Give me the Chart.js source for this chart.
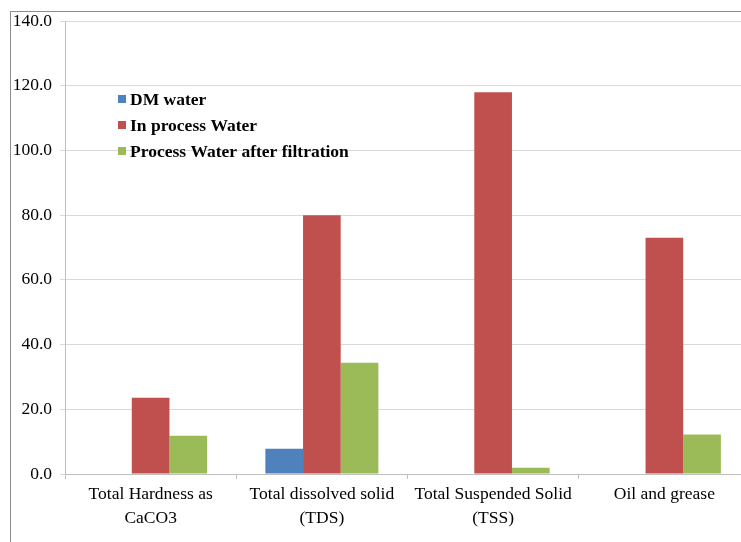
<!DOCTYPE html>
<html>
<head>
<meta charset="utf-8">
<script src="https://cdn.jsdelivr.net/npm/chart.js@4/dist/chart.umd.min.js"></script>
<style>
  html, body { margin: 0; padding: 0; background: #fff; overflow: hidden; }
  #wrap { position: relative; width: 750px; height: 542px; }
</style>
</head>
<body>
<div id="wrap"><canvas id="c"></canvas></div>
<script>
const categories = [
  ['Total Hardness as', 'CaCO3'],
  ['Total dissolved solid', '(TDS)'],
  ['Total Suspended Solid', '(TSS)'],
  'Oil and grease'
];
const dmWater = [0, 7.8, 0, 0];
const inProcessWater = [23.6, 80.0, 118.0, 73.0];
const afterFiltration = [11.8, 34.4, 1.9, 12.2];
const yTicks = [0, 20, 40, 60, 80, 100, 120, 140];

const SERIF = '"Liberation Serif", "DejaVu Serif", serif';

// cadre gris (bord gauche + haut visibles) et légende dans la zone de tracé
const framePlugin = {
  id: 'frame',
  beforeDraw(chart) {
    const ctx = chart.ctx;
    ctx.save();
    ctx.strokeStyle = '#8c8c8c';
    ctx.lineWidth = 1;
    ctx.strokeRect(10.5, 11.5, 900, 700);
    ctx.restore();
  },
  afterDraw(chart) {
    const ctx = chart.ctx;
    ctx.save();
    ctx.font = 'bold 17.5px ' + SERIF;
    ctx.textBaseline = 'middle';
    chart.data.datasets.forEach((ds, i) => {
      const y = 99 + i * 26;
      ctx.fillStyle = ds.backgroundColor;
      ctx.fillRect(118, y - 4, 8, 8);
      ctx.fillStyle = '#000';
      ctx.fillText(ds.label, 130, y + 1);
    });
    ctx.restore();
  }
};

new Chart(document.getElementById('c'), {
  type: 'bar',
  data: {
    labels: categories,
    datasets: [
      { label: 'DM water', data: dmWater, backgroundColor: '#4f81bd' },
      { label: 'In process Water', data: inProcessWater, backgroundColor: '#c0504d' },
      { label: 'Process Water after filtration', data: afterFiltration, backgroundColor: '#9bbb59' }
    ]
  },
  options: {
    responsive: true, maintainAspectRatio: false,
    animation: false,
    layout: { padding: { left: 10, top: 21, right: 0, bottom: 0 } },
    datasets: { bar: { categoryPercentage: 0.66, barPercentage: 1.0 } },
    plugins: { legend: { display: false }, tooltip: { enabled: false } },
    scales: {
      x: {
        grid: { drawOnChartArea: false, drawTicks: true, tickLength: 5, offset: true, color: '#bfbfbf' },
        border: { color: '#bfbfbf' },
        ticks: { color: '#000', font: { family: SERIF, size: 17.5, lineHeight: 1.35 }, maxRotation: 0, padding: 4 },
        afterFit(scale) { scale.height = 68; }
      },
      y: {
        min: 0, max: 140,
        afterBuildTicks(scale) { scale.ticks = yTicks.map(v => ({ value: v })); },
        grid: { color: '#d9d9d9', tickLength: 5 },
        border: { color: '#bfbfbf' },
        ticks: {
          color: '#000', font: { family: SERIF, size: 17.5 }, padding: 8,
          callback: v => Number(v).toFixed(1)
        },
        afterFit(scale) { scale.width = 55; }
      }
    }
  },
  plugins: [framePlugin]
});
</script>
</body>
</html>
